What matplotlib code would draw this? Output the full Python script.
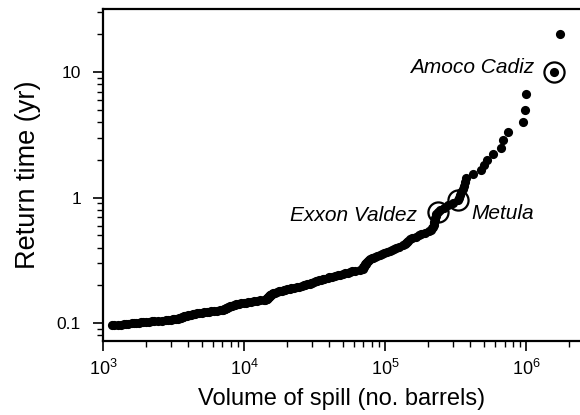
import matplotlib
matplotlib.use("Agg")
import matplotlib.pyplot as plt
from matplotlib.ticker import LogLocator, NullFormatter

plt.rcParams['font.family'] = ['Liberation Sans', 'DejaVu Sans']
plt.rcParams['mathtext.fontset'] = 'custom'
plt.rcParams['mathtext.rm'] = 'Liberation Sans'

# Spill volumes (barrels), largest first
volume = [
    1.73e6, 1.58e6, 1.0e6, 9.7e5, 9.4e5, 7.4e5, 6.8e5, 6.6e5, 5.8e5, 5.3e5,
    5.0e5, 4.8e5, 4.2e5, 3.75e5, 3.7e5, 3.6e5, 3.55e5, 3.45e5, 3.4e5, 3.35e5,
    3.26e5, 3.0e5, 2.8e5, 2.6e5, 2.45e5, 2.35e5, 2.3e5, 2.28e5, 2.25e5, 2.24e5,
    2.22e5, 2.2e5, 2.2e5, 2.18e5, 2.15e5, 2.1e5, 2.03e5, 1.9e5, 1.8e5, 1.72e5,
    1.65e5, 1.55e5, 1.5e5, 1.45e5, 1.43e5, 1.4e5, 1.38e5, 1.33e5, 1.25e5, 1.2e5,
    1.15e5, 1.12e5, 1.08e5, 1.03e5, 9.8e4, 9.5e4, 9.1e4, 8.8e4, 8.5e4, 8.2e4,
    8.0e4, 7.8e4, 7.6e4, 7.5e4, 7.4e4, 7.3e4, 7.3e4, 7.2e4, 7.2e4, 7.1e4,
    7.1e4, 7.0e4, 7.0e4, 6.9e4, 6.6e4, 6.1e4, 5.8e4, 5.6e4, 5.4e4, 5.2e4,
    5.0e4, 4.8e4, 4.6e4, 4.4e4, 4.2e4, 4.0e4, 3.9e4, 3.7e4, 3.6e4, 3.5e4,
    3.4e4, 3.3e4, 3.2e4, 3.1e4, 3.0e4, 2.95e4, 2.9e4, 2.8e4, 2.7e4, 2.65e4,
    2.55e4, 2.45e4, 2.35e4, 2.25e4, 2.15e4, 2.1e4, 2.0e4, 1.95e4, 1.9e4, 1.85e4,
    1.8e4, 1.75e4, 1.7e4, 1.65e4, 1.6e4, 1.58e4, 1.56e4, 1.54e4, 1.53e4, 1.52e4,
    1.51e4, 1.5e4, 1.49e4, 1.48e4, 1.47e4, 1.46e4, 1.45e4, 1.44e4, 1.43e4, 1.41e4,
    1.37e4, 1.3e4, 1.24e4, 1.18e4, 1.12e4, 1.07e4, 1.03e4, 9.9e3, 9.5e3, 9.2e3,
    9.0e3, 8.8e3, 8.6e3, 8.4e3, 8.2e3, 8.0e3, 7.9e3, 7.8e3, 7.7e3, 7.6e3,
    7.5e3, 7.4e3, 7.3e3, 7.25e3, 7.2e3, 7.1e3, 7.0e3, 6.7e3, 6.4e3, 6.1e3,
    5.8e3, 5.6e3, 5.4e3, 5.2e3, 5.0e3, 4.8e3, 4.6e3, 4.5e3, 4.4e3, 4.3e3,
    4.2e3, 4.1e3, 4.0e3, 3.9e3, 3.8e3, 3.75e3, 3.7e3, 3.65e3, 3.6e3, 3.55e3,
    3.5e3, 3.45e3, 3.4e3, 3.3e3, 3.2e3, 3.1e3, 3.0e3, 2.9e3, 2.8e3, 2.6e3,
    2.45e3, 2.3e3, 2.2e3, 2.1e3, 2.0e3, 1.9e3, 1.85e3, 1.8e3, 1.7e3, 1.65e3,
    1.6e3, 1.5e3, 1.45e3, 1.4e3, 1.33e3, 1.27e3, 1.2e3, 1.15e3,
]

# Return time (yr) for each spill
return_time = [
    20, 10, 6.67, 5, 4, 3.33, 2.86, 2.5, 2.22, 2,
    1.82, 1.67, 1.54, 1.43, 1.33, 1.25, 1.18, 1.11, 1.05, 1,
    0.952, 0.909, 0.870, 0.833, 0.8, 0.769, 0.741, 0.714, 0.690, 0.667,
    0.645, 0.625, 0.606, 0.588, 0.571, 0.556, 0.541, 0.526, 0.513, 0.5,
    0.488, 0.476, 0.465, 0.455, 0.444, 0.435, 0.426, 0.417, 0.408, 0.4,
    0.392, 0.385, 0.377, 0.370, 0.364, 0.357, 0.351, 0.345, 0.339, 0.333,
    0.328, 0.323, 0.317, 0.313, 0.308, 0.303, 0.299, 0.294, 0.290, 0.286,
    0.282, 0.278, 0.274, 0.270, 0.267, 0.263, 0.260, 0.256, 0.253, 0.25,
    0.247, 0.244, 0.241, 0.238, 0.235, 0.233, 0.230, 0.227, 0.225, 0.222,
    0.220, 0.217, 0.215, 0.213, 0.211, 0.208, 0.206, 0.204, 0.202, 0.2,
    0.198, 0.196, 0.194, 0.192, 0.190, 0.189, 0.187, 0.185, 0.183, 0.182,
    0.180, 0.179, 0.177, 0.175, 0.174, 0.172, 0.171, 0.169, 0.168, 0.167,
    0.165, 0.164, 0.163, 0.161, 0.16, 0.159, 0.157, 0.156, 0.155, 0.154,
    0.153, 0.152, 0.150, 0.149, 0.148, 0.147, 0.146, 0.145, 0.144, 0.143,
    0.142, 0.141, 0.140, 0.139, 0.138, 0.137, 0.136, 0.135, 0.134, 0.133,
    0.132, 0.1316, 0.131, 0.130, 0.129, 0.128, 0.127, 0.1266, 0.126, 0.125,
    0.124, 0.123, 0.1227, 0.122, 0.121, 0.120, 0.1198, 0.119, 0.118, 0.1176,
    0.117, 0.116, 0.1156, 0.115, 0.114, 0.1136, 0.113, 0.112, 0.1117, 0.111,
    0.110, 0.1099, 0.109, 0.1087, 0.108, 0.1075, 0.107, 0.106, 0.1058, 0.105,
    0.1047, 0.104, 0.1036, 0.103, 0.1026, 0.102, 0.1015, 0.101, 0.1005, 0.1,
    0.0995, 0.0990, 0.0985, 0.0980, 0.0976, 0.0971, 0.0966, 0.0962,
]

# Named spills that get a ring
named = ['Amoco Cadiz', 'Metula', 'Exxon Valdez']
named_volume = [1.58e6, 3.26e5, 2.35e5]
named_time = [10, 0.952, 0.769]

fig = plt.figure(figsize=(5.8, 4.15), dpi=100)
ax = fig.add_axes([0.178, 0.178, 0.822, 0.8])

ax.plot(volume, return_time, 'o', color='black', markersize=6.6, markeredgewidth=0)
ax.plot(named_volume, named_time, 'o', markersize=14.5, markerfacecolor='none',
        markeredgecolor='black', markeredgewidth=1.6)

ax.set_xscale('log')
ax.set_yscale('log')
ax.set_xlim(1e3, 2.4e6)
ax.set_ylim(0.072, 31.8)

ax.text(1.14e6, 10.8, 'Amoco Cadiz', fontsize=15, style='italic', ha='right', va='center')
ax.text(1.69e5, 0.72, 'Exxon Valdez', fontsize=15, style='italic', ha='right', va='center')
ax.text(4.06e5, 0.75, 'Metula', fontsize=15, style='italic', ha='left', va='center')

ax.set_xticks([1e3, 1e4, 1e5, 1e6])
ax.set_xticklabels([r'$\mathregular{10^3}$', r'$\mathregular{10^4}$',
                    r'$\mathregular{10^5}$', r'$\mathregular{10^6}$'])
ax.xaxis.set_minor_locator(LogLocator(base=10, subs=range(2, 10), numticks=20))
ax.xaxis.set_minor_formatter(NullFormatter())
ax.set_yticks([0.1, 1, 10])
ax.set_yticklabels(['0.1', '1', '10'])
ax.yaxis.set_minor_locator(LogLocator(base=10, subs=range(2, 10), numticks=20))
ax.yaxis.set_minor_formatter(NullFormatter())

ax.tick_params(which='major', direction='out', length=7, width=1.2, labelsize=13)
ax.tick_params(which='minor', direction='out', length=4, width=1.0)
ax.tick_params(axis='x', which='both', top=False, pad=6)
ax.tick_params(axis='y', which='both', right=False, pad=9)
ax.tick_params(axis='y', which='major', labelsize=12.5)

ax.spines['right'].set_visible(False)
for s in ['left', 'bottom', 'top']:
    ax.spines[s].set_linewidth(1.6)

ax.set_xlabel('Volume of spill (no. barrels)', fontsize=17, labelpad=6)
ax.set_ylabel('Return time (yr)', fontsize=19.5, labelpad=11)

fig.savefig('out.png', dpi=100)
